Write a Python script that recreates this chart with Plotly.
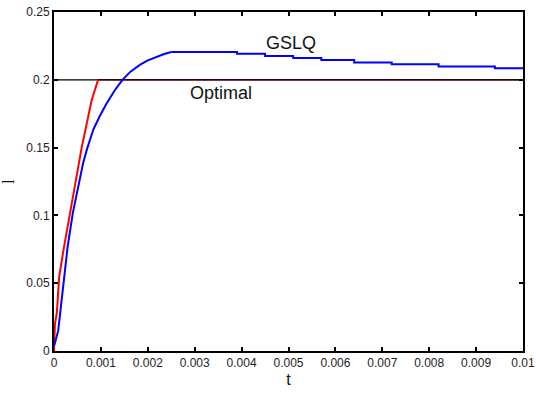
import plotly.graph_objects as go

# Optimal (red) response
red_t = [0, 0.00002, 0.00006, 0.00011, 0.0002, 0.00034, 0.00046, 0.00059, 0.0008, 0.00094]
red_v = [0, 0.02, 0.028, 0.0546, 0.074, 0.1015, 0.1257, 0.15, 0.1846, 0.2]

# Red plateau after reaching the optimum
red_flat_t = [0.00094, 0.01]
red_flat_v = [0.2, 0.2]

# GSLQ (blue) response - rising part
blue_rise_t = [0, 0.00002, 0.00009, 0.00013, 0.0002, 0.00029, 0.0004, 0.00054, 0.00062, 0.0007,
               0.00084, 0.00098, 0.00112, 0.0013, 0.00146, 0.00163, 0.00183, 0.002, 0.00219,
               0.00235, 0.0025]
blue_rise_v = [0.004, 0.006, 0.015, 0.028, 0.052, 0.0767, 0.1015, 0.1257, 0.1385, 0.1485,
               0.1635, 0.1735, 0.1825, 0.1925, 0.2, 0.206, 0.211, 0.2143, 0.217,
               0.219, 0.2205]

# GSLQ (blue) - plateau steps
blue_step_t = [0.0025, 0.0039, 0.0045, 0.0051, 0.0057, 0.0064, 0.0072, 0.0082, 0.0094, 0.01]
blue_step_v = [0.2205, 0.2192, 0.2175, 0.2160, 0.2146, 0.2128, 0.2115, 0.2099, 0.2085, 0.2085]

# Optimal reference level
opt_t = [0, 0.01]
opt_v = [0.2, 0.2]

x_ticks = [0, 0.001, 0.002, 0.003, 0.004, 0.005, 0.006, 0.007, 0.008, 0.009, 0.01]
x_labels = ["0", "0.001", "0.002", "0.003", "0.004", "0.005", "0.006", "0.007", "0.008", "0.009", "0.01"]
y_ticks = [0, 0.05, 0.1, 0.15, 0.2, 0.25]
y_labels = ["0", "0.05", "0.1", "0.15", "0.2", "0.25"]

fig = go.Figure()
fig.add_trace(go.Scatter(x=red_flat_t, y=red_flat_v, mode="lines",
                         line=dict(color="#c00000", width=1.5), showlegend=False))
fig.add_trace(go.Scatter(x=opt_t, y=opt_v, mode="lines",
                         line=dict(color="#000000", width=1.2), showlegend=False))
fig.add_trace(go.Scatter(x=red_t, y=red_v, mode="lines",
                         line=dict(color="#ff0000", width=2), showlegend=False))
fig.add_trace(go.Scatter(x=blue_rise_t, y=blue_rise_v, mode="lines",
                         line=dict(color="#0000ff", width=2), showlegend=False))
fig.add_trace(go.Scatter(x=blue_step_t, y=blue_step_v, mode="lines",
                         line=dict(color="#0000ff", width=2, shape="hv"), showlegend=False))

fig.add_annotation(x=0.00505, y=0.2275, text="GSLQ", showarrow=False,
                   font=dict(family="Liberation Sans, Arial", size=18, color="#111"))
fig.add_annotation(x=0.00356, y=0.1905, text="Optimal", showarrow=False,
                   font=dict(family="Liberation Sans, Arial", size=18, color="#111"))

axis_common = dict(showline=True, linecolor="black", linewidth=2, mirror="ticks",
                   ticks="inside", ticklen=4, tickwidth=2, tickcolor="black",
                   showgrid=False, zeroline=False, automargin=False,
                   tickfont=dict(family="Liberation Sans, Arial", size=12, color="#222"))

fig.update_xaxes(range=[0, 0.01], tickvals=x_ticks, ticktext=x_labels,
                 title=dict(text="t", font=dict(family="Liberation Sans, Arial", size=16, color="#111"),
                            standoff=4),
                 **axis_common)
fig.update_yaxes(range=[0, 0.25], tickvals=y_ticks, ticktext=y_labels,
                 title=dict(text="l", font=dict(family="Liberation Serif, Times New Roman", size=16, color="#111"),
                            standoff=14),
                 **axis_common)

fig.update_layout(width=536, height=394, margin=dict(l=54, r=13, t=12, b=43),
                  plot_bgcolor="white", paper_bgcolor="white")

fig.write_html("out.html")
